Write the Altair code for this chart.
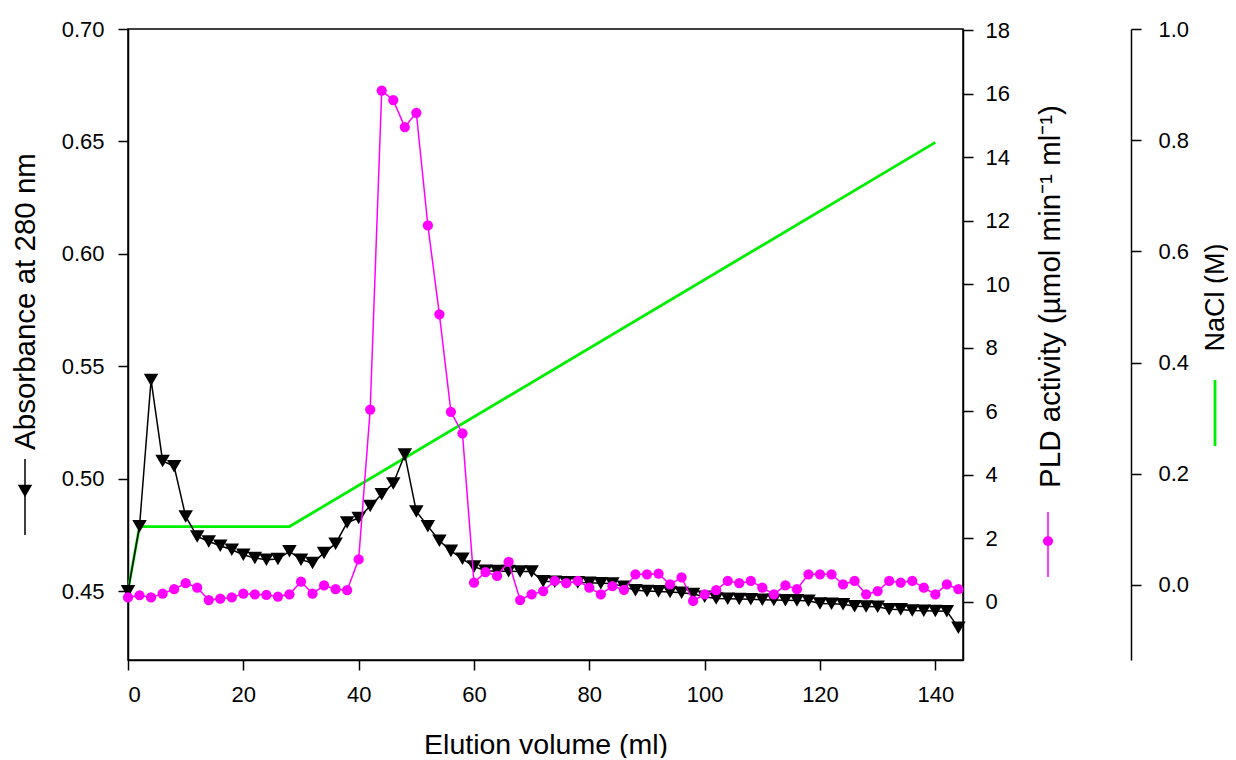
import altair as alt
import pandas as pd

# ---------------- data ----------------
volume = list(range(0, 145, 2))  # elution volume, ml (fractions every 2 ml)

absorbance = [
    0.450, 0.479, 0.544, 0.508, 0.5056, 0.4833, 0.4744, 0.4722, 0.4703, 0.4685,
    0.4663, 0.4648, 0.4641, 0.4644, 0.4678, 0.4641, 0.4626, 0.4671, 0.4712, 0.4806,
    0.4826, 0.4880, 0.4932, 0.4980, 0.5108, 0.4855, 0.4790, 0.4725, 0.4680, 0.4645,
    0.4610, 0.4592, 0.4590, 0.4590, 0.4588, 0.4588, 0.4545, 0.4543, 0.4541, 0.4540,
    0.4538, 0.4536, 0.4535, 0.4520, 0.4505, 0.4502, 0.4500, 0.4497, 0.4494, 0.4488,
    0.4476, 0.4468, 0.4467, 0.4466, 0.4465, 0.4463, 0.4462, 0.4461, 0.4460, 0.4458,
    0.4446, 0.4445, 0.4443, 0.4434, 0.4433, 0.4432, 0.4421, 0.4420, 0.4415, 0.4414,
    0.4413, 0.4412, 0.4338,
]

pld = [
    0.13, 0.20, 0.13, 0.25, 0.39, 0.58, 0.44, 0.05, 0.09, 0.13,
    0.25, 0.23, 0.21, 0.16, 0.23, 0.63, 0.25, 0.51, 0.39, 0.36,
    1.33, 6.05, 16.1, 15.8, 14.95, 15.4, 11.85, 9.05, 5.98, 5.30,
    0.60, 0.93, 0.81, 1.25, 0.05, 0.23, 0.33, 0.65, 0.58, 0.65,
    0.44, 0.23, 0.49, 0.37, 0.86, 0.86, 0.88, 0.54, 0.76, 0.02,
    0.23, 0.36, 0.65, 0.58, 0.65, 0.44, 0.23, 0.51, 0.39, 0.86,
    0.86, 0.86, 0.54, 0.65, 0.23, 0.33, 0.65, 0.60, 0.65, 0.44,
    0.23, 0.54, 0.39,
]

nacl_volume = [0, 2, 28, 140]
nacl = [-0.01, 0.105, 0.105, 0.796]

x_ticks = [0, 20, 40, 60, 80, 100, 120, 140]
abs_ticks = [0.45, 0.50, 0.55, 0.60, 0.65, 0.70]
pld_ticks = [0, 2, 4, 6, 8, 10, 12, 14, 16, 18]
nacl_ticks = [0.0, 0.2, 0.4, 0.6, 0.8, 1.0]

df_main = pd.DataFrame({"volume": volume, "absorbance": absorbance, "pld": pld})
df_nacl = pd.DataFrame({"volume": nacl_volume, "nacl": nacl})
one_row = alt.Data(values=[{"k": 0}])

FONT = "Liberation Sans"
BLACK = "#000000"
MAGENTA = "#ff00ff"
GREEN = "#00ee00"
TRI_SIZE = 210
DOT_SIZE = 105


def x_enc():
    return alt.X(
        "volume:Q",
        scale=alt.Scale(domain=[0, 144.8], nice=False, zero=False),
        axis=alt.Axis(
            values=x_ticks,
            title="Elution volume (ml)",
            titleY=84,
            titleBaseline="middle",
            titleFontSize=28.5,
            labelPadding=14,
        ),
    )


nacl_layer = alt.Chart(df_nacl).mark_line(color=GREEN, strokeWidth=2.8).encode(
    x=x_enc(),
    y=alt.Y(
        "nacl:Q",
        scale=alt.Scale(domain=[-0.135, 1.0], nice=False, zero=False),
        axis=alt.Axis(
            orient="right",
            offset=168,
            values=nacl_ticks,
            format=".1f",
            title="NaCl (M)",
            titleAngle=-90,
            titleX=84,
            titleY=268,
            titleAlign="center",
            titleBaseline="middle",
            titleFontSize=27,
            labelPadding=17,
        ),
    ),
)

abs_layer = alt.Chart(df_main).mark_line(
    color=BLACK,
    strokeWidth=1.5,
    point=alt.OverlayMarkDef(shape="triangle-down", size=TRI_SIZE, filled=True, color=BLACK, opacity=1),
).encode(
    x=x_enc(),
    y=alt.Y(
        "absorbance:Q",
        scale=alt.Scale(domain=[0.4195, 0.70], nice=False, zero=False),
        axis=alt.Axis(
            orient="left",
            values=abs_ticks,
            format=".2f",
            title="Absorbance at 280 nm",
            titleAngle=-90,
            titleX=-103,
            titleY=272,
            titleAlign="center",
            titleBaseline="middle",
            titleFontSize=29.5,
            labelPadding=14,
        ),
    ),
)

pld_layer = alt.Chart(df_main).mark_line(
    color=MAGENTA,
    strokeWidth=1.5,
    point=alt.OverlayMarkDef(shape="circle", size=DOT_SIZE, filled=True, color=MAGENTA, opacity=1),
).encode(
    x=x_enc(),
    y=alt.Y(
        "pld:Q",
        scale=alt.Scale(domain=[-1.84, 18.04], nice=False, zero=False),
        axis=alt.Axis(
            orient="right",
            values=pld_ticks,
            format="d",
            title="PLD activity (µmol min⁻¹ ml⁻¹)",
            titleAngle=-90,
            titleX=87,
            titleY=267,
            titleAlign="center",
            titleBaseline="middle",
            titleFontSize=29.5,
            labelPadding=12,
        ),
    ),
)

# legend glyphs drawn next to the axis titles (decoration)
g_abs_rule = alt.Chart(one_row).mark_rule(color=BLACK, strokeWidth=1.5).encode(
    x=alt.value(-103), y=alt.value(430), y2=alt.value(506))
g_abs_pt = alt.Chart(one_row).mark_point(
    shape="triangle-down", filled=True, color=BLACK, size=TRI_SIZE, opacity=1).encode(
    x=alt.value(-103), y=alt.value(462))
g_pld_rule = alt.Chart(one_row).mark_rule(color=MAGENTA, strokeWidth=1.5).encode(
    x=alt.value(920), y=alt.value(483), y2=alt.value(548))
g_pld_pt = alt.Chart(one_row).mark_point(
    shape="circle", filled=True, color=MAGENTA, size=DOT_SIZE, opacity=1).encode(
    x=alt.value(920), y=alt.value(512))
g_nacl_rule = alt.Chart(one_row).mark_rule(color=GREEN, strokeWidth=2.8).encode(
    x=alt.value(1087), y=alt.value(351), y2=alt.value(417))

chart = (
    alt.layer(
        nacl_layer, abs_layer, pld_layer,
        g_abs_rule, g_abs_pt, g_pld_rule, g_pld_pt, g_nacl_rule,
    )
    .resolve_scale(y="independent")
    .properties(
        width=835,
        height=631,
        autosize=alt.AutoSizeParams(type="none"),
        padding={"left": 120, "top": 21, "right": 265, "bottom": 98},
        background="white",
    )
    .configure_view(stroke=BLACK, strokeWidth=1.5)
    .configure_axis(
        grid=False,
        domainColor=BLACK,
        domainWidth=1.5,
        tickColor=BLACK,
        tickWidth=1.5,
        tickSize=10,
        labelFont=FONT,
        labelFontSize=22,
        labelColor=BLACK,
        titleFont=FONT,
        titleFontSize=29,
        titleFontWeight="normal",
        titleColor=BLACK,
    )
)

chart.save("out.html", embed_options={"renderer": "svg", "actions": False})
